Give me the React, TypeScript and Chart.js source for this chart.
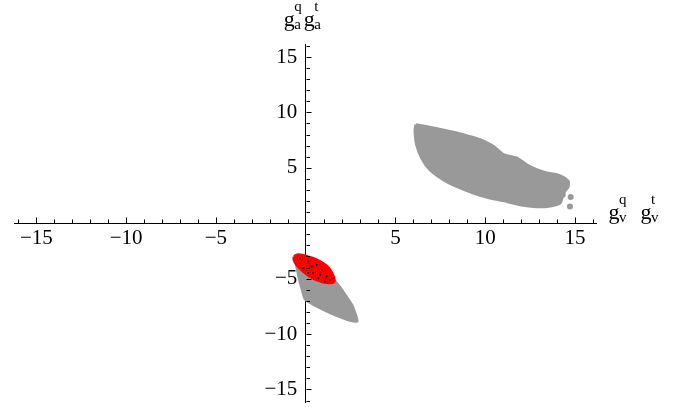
import React, { useEffect, useRef } from 'react';
import { Chart, registerables } from 'chart.js';

Chart.register(...registerables);

// Axis ranges and tick labels
const X_MIN = -16.2;
const X_MAX = 16.2;
const Y_MIN = -16.2;
const Y_MAX = 16.1;
const X_TICKS = [-15, -10, -5, 5, 10, 15];
const Y_TICKS = [-15, -10, -5, 5, 10, 15];
const MINOR_TICKS = [-16, -15, -14, -13, -12, -11, -10, -9, -8, -7, -6, -5, -4, -3, -2, -1, 1, 2, 3, 4, 5, 6, 7, 8, 9, 10, 11, 12, 13, 14, 15, 16];

// Outline of the upper-right grey point cloud
const upperCloud: [number, number][] = [
  [6.14, 8.9], [7.11, 8.6], [8.41, 8.15], [9.71, 7.54], [10.45, 6.94], [11.01, 6.19],
  [11.75, 5.89], [12.31, 5.28], [12.87, 4.83], [13.43, 4.53], [13.98, 4.38], [14.54, 3.93],
  [14.63, 3.32], [14.35, 2.73], [14.17, 1.82], [13.43, 1.52], [12.68, 1.52], [11.94, 1.67],
  [11.2, 1.97], [10.27, 2.27], [9.34, 2.73], [8.41, 3.32], [7.67, 3.93], [6.92, 4.83],
  [6.46, 5.89], [6.18, 7.09], [6.09, 8.45], [6.14, 8.9],
];
// Stray grey points along the ragged right end of the upper cloud
const upperStray: [number, number][] = [
  [14.76, 2.37], [14.72, 1.52], [14.55, 3.7], [14.26, 3.78], [14.45, 3.23], [14.32, 2.57],
];

// Outline of the lower grey point cloud
const lowerCloud: [number, number][] = [
  [-0.65, -3.0], [-0.3, -2.85], [0.42, -3.4], [1.17, -4.3], [1.54, -5.0], [1.95, -5.8],
  [2.28, -6.6], [2.6, -7.4], [2.88, -8.87], [2.28, -8.7], [1.35, -8.1], [0.42, -7.36],
  [-0.04, -6.9], [-0.22, -6.0], [-0.41, -4.8], [-0.6, -3.3], [-0.65, -3.0],
];

// Outline of the red region
const redCloud: [number, number][] = [
  [-0.65, -3.0], [-0.41, -2.85], [0.05, -3.0], [0.61, -3.3], [1.07, -3.75], [1.35, -4.2],
  [1.54, -4.8], [1.58, -5.26], [1.17, -5.35], [0.61, -5.1], [0.24, -4.8], [-0.13, -4.35],
  [-0.5, -3.75], [-0.65, -3.3], [-0.65, -3.0],
];

// Black markers inside the red region
const blackPoints: [number, number][] = [
  [-0.32, -3.15], [0.14, -3.45], [0.33, -3.9], [0.61, -3.75], [0.89, -4.2], [0.42, -4.5],
  [0.8, -4.65], [1.17, -4.8], [1.35, -5.1], [1.07, -5.26], [0.7, -4.95], [0.14, -4.5],
  [-0.13, -4.05], [1.54, -4.95],
];

const GREY = '#999999';
const RED = '#ff0000';
const FONT = '"Liberation Serif", "Times New Roman", serif';

const toXY = (arr: [number, number][]) => arr.map(([x, y]) => ({ x, y }));
const fmt = (v: number) => (v < 0 ? '\u2212' + Math.abs(v) : String(v));

function drawScripted(ctx: CanvasRenderingContext2D, x: number, baseline: number, base: string, sup: string, sub: string) {
  ctx.font = `22px ${FONT}`;
  ctx.fillText(base, x, baseline);
  const w = ctx.measureText(base).width;
  ctx.font = `15px ${FONT}`;
  ctx.fillText(sup, x + w - 0.5, baseline - 15);
  ctx.fillText(sub, x + w - 0.5, baseline + 3);
}

const decorPlugin = {
  id: 'decor',
  afterDraw(chart: any) {
    const ctx: CanvasRenderingContext2D = chart.ctx;
    const xs = chart.scales.x;
    const ys = chart.scales.y;
    const x0 = xs.getPixelForValue(0);
    const y0 = ys.getPixelForValue(0);
    ctx.save();
    ctx.strokeStyle = '#000';
    ctx.lineWidth = 1;
    ctx.beginPath();
    for (const v of MINOR_TICKS) {
      const len = v % 5 === 0 ? 6 : 4;
      const px = Math.round(xs.getPixelForValue(v)) + 0.5;
      ctx.moveTo(px, Math.round(y0) + 0.5);
      ctx.lineTo(px, Math.round(y0) + 0.5 - len);
      const py = Math.round(ys.getPixelForValue(v)) + 0.5;
      const lenY = v % 5 === 0 ? 5 : 3.5;
      ctx.moveTo(Math.round(x0) + 0.5, py);
      ctx.lineTo(Math.round(x0) + 0.5 + lenY, py);
    }
    ctx.stroke();
    ctx.fillStyle = '#000';
    ctx.textAlign = 'left';
    ctx.textBaseline = 'alphabetic';
    // vertical axis label
    drawScripted(ctx, x0 - 22, ys.top - 19, 'g', 'q', 'a');
    drawScripted(ctx, x0 - 2, ys.top - 19, 'g', 't', 'a');
    // horizontal axis label
    drawScripted(ctx, xs.right + 12, y0 - 4, 'g', 'q', 'v');
    drawScripted(ctx, xs.right + 44, y0 - 4, 'g', 't', 'v');
    ctx.restore();
  },
};

export default function App() {
  const ref = useRef<HTMLCanvasElement | null>(null);
  useEffect(() => {
    if (!ref.current) return;
    const chart = new Chart(ref.current, {
      type: 'scatter',
      data: {
        datasets: [
          {
            type: 'scatter',
            data: toXY(blackPoints),
            backgroundColor: '#000',
            borderColor: '#000',
            pointRadius: 1.1,
            borderWidth: 0,
            order: 0,
          } as any,
          {
            type: 'line',
            data: toXY(redCloud),
            borderColor: RED,
            backgroundColor: RED,
            borderWidth: 3,
            borderJoinStyle: 'round',
            pointRadius: 0,
            fill: 'shape',
            tension: 0.3,
            order: 1,
          } as any,
          {
            type: 'line',
            data: toXY(lowerCloud),
            borderColor: GREY,
            backgroundColor: GREY,
            borderWidth: 2,
            borderJoinStyle: 'round',
            pointRadius: 0,
            fill: 'shape',
            tension: 0.2,
            order: 2,
          } as any,
          {
            type: 'line',
            data: toXY(upperCloud),
            borderColor: GREY,
            backgroundColor: GREY,
            borderWidth: 3,
            borderJoinStyle: 'round',
            pointRadius: 0,
            fill: 'shape',
            tension: 0.2,
            order: 2,
          } as any,
          {
            type: 'scatter',
            data: toXY(upperStray),
            backgroundColor: GREY,
            borderColor: GREY,
            pointRadius: 3,
            borderWidth: 0,
            order: 2,
          } as any,
        ],
      },
      options: {
        animation: false,
        responsive: false,
        events: [],
        layout: { padding: { left: 14.9, right: 76.5, top: 44.8, bottom: 4.2 } },
        plugins: { legend: { display: false }, tooltip: { enabled: false } },
        scales: {
          x: {
            type: 'linear',
            min: X_MIN,
            max: X_MAX,
            position: { y: 0 } as any,
            z: 1,
            grid: { display: false },
            border: { display: true, color: '#000', width: 1 },
            afterBuildTicks: (s: any) => { s.ticks = X_TICKS.map((v) => ({ value: v })); },
            ticks: {
              color: '#000',
              padding: -5,
              maxRotation: 0,
              autoSkip: false,
              font: { family: FONT, size: 21 },
              callback: (v: any) => fmt(Number(v)),
            },
          },
          y: {
            type: 'linear',
            min: Y_MIN,
            max: Y_MAX,
            position: { x: 0 } as any,
            z: 1,
            grid: { display: false },
            border: { display: true, color: '#000', width: 1 },
            afterBuildTicks: (s: any) => { s.ticks = Y_TICKS.map((v) => ({ value: v })); },
            ticks: {
              color: '#000',
              padding: -11,
              autoSkip: false,
              font: { family: FONT, size: 21 },
              callback: (v: any) => fmt(Number(v)) + '\u2009\u2009',
            },
          },
        },
      },
      plugins: [decorPlugin],
    });
    return () => chart.destroy();
  }, []);
  return (
    <div style={{ position: 'absolute', left: 0, top: 0, width: 673, height: 407, background: '#fff' }}>
      <canvas ref={ref} width={673} height={407} style={{ display: 'block' }} />
    </div>
  );
}
